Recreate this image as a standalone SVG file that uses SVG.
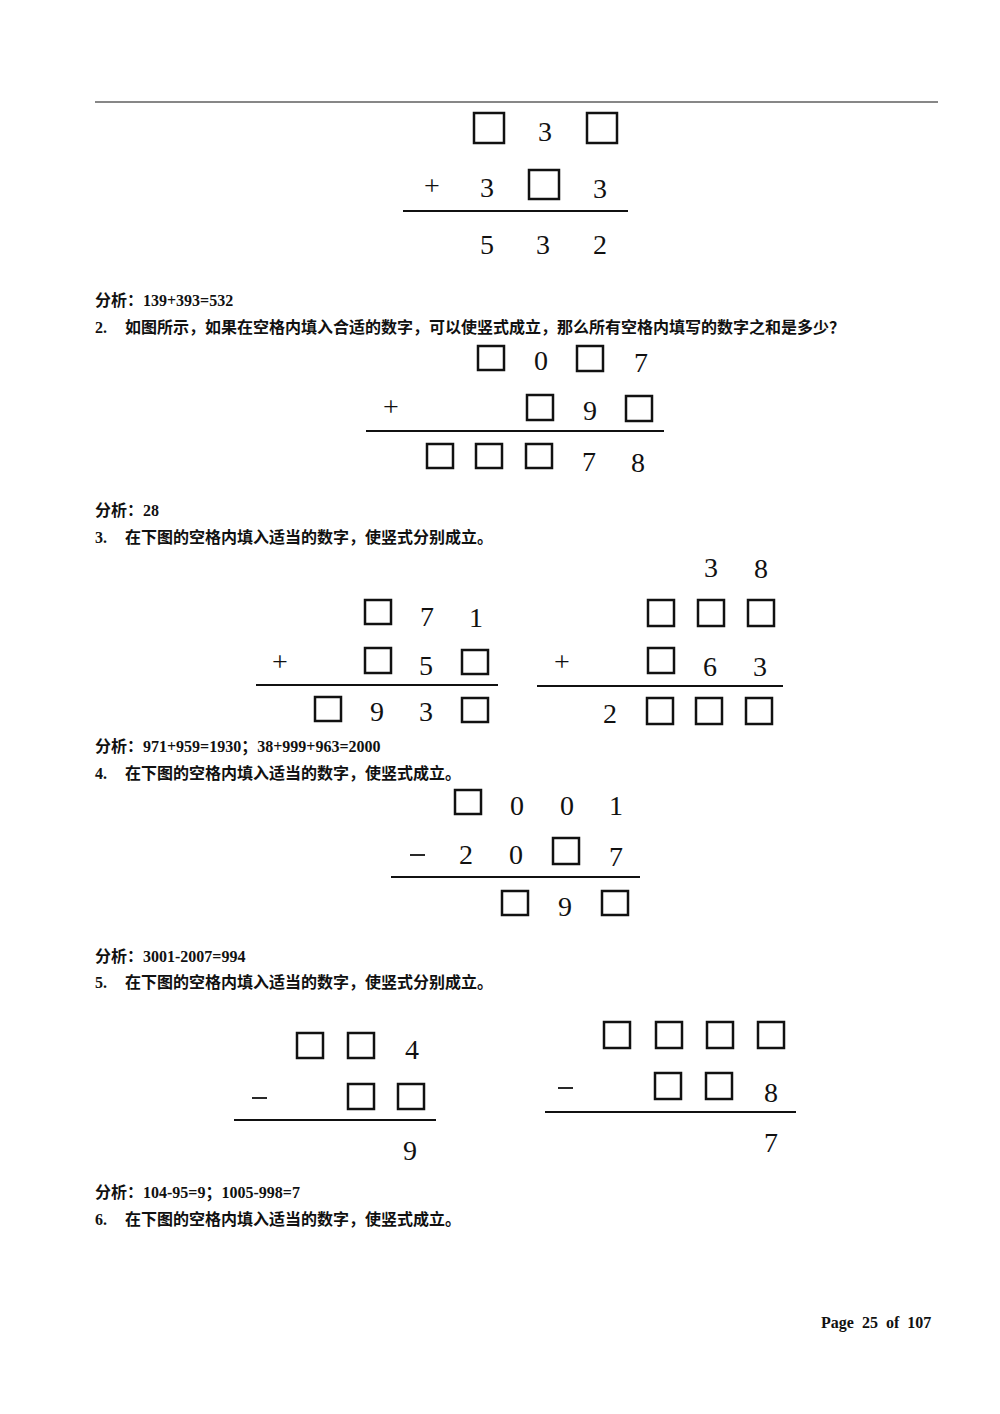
<svg xmlns="http://www.w3.org/2000/svg" width="1000" height="1414" viewBox="0 0 1000 1414">
<style>
.b{fill:none;stroke:#111;stroke-width:2.5}
.d{font-family:"Liberation Serif",serif;font-size:28px;text-anchor:middle;fill:#111}
.t{font-family:"Liberation Serif","Noto Sans CJK SC",serif;font-size:16px;font-weight:bold;fill:#111}
.l{stroke:#111;stroke-width:1.8}
</style>
<rect width="1000" height="1414" fill="#fff"/>
<line x1="95" y1="102" x2="938" y2="102" stroke="#111" stroke-width="1.2"/>
<g id="p1">
<rect class="b" x="474" y="113" width="30" height="30"/><text class="d" x="545" y="141">3</text><rect class="b" x="587" y="113" width="30" height="30"/>
<text class="d" x="432" y="195">+</text><text class="d" x="487" y="197">3</text><rect class="b" x="529" y="170" width="30" height="29"/><text class="d" x="600" y="198">3</text>
<line class="l" x1="403" y1="211" x2="628" y2="211"/>
<text class="d" x="487" y="254">5</text><text class="d" x="543" y="254">3</text><text class="d" x="600" y="254">2</text>
</g>
<text class="t" x="95" y="306">分析：139+393=532</text>
<text class="t" x="95" y="333">2.</text><text class="t" x="125" y="333">如图所示，如果在空格内填入合适的数字，可以使竖式成立，那么所有空格内填写的数字之和是多少？</text>
<g id="p2">
<rect class="b" x="478" y="346" width="26" height="24"/><text class="d" x="541" y="370">0</text><rect class="b" x="577" y="346" width="26" height="25"/><text class="d" x="641" y="372">7</text>
<text class="d" x="391" y="416">+</text><rect class="b" x="527" y="395" width="26" height="25"/><text class="d" x="590" y="420">9</text><rect class="b" x="626" y="396" width="26" height="25"/>
<line class="l" x1="366" y1="431" x2="664" y2="431"/>
<rect class="b" x="427" y="444" width="26" height="24"/><rect class="b" x="476" y="444" width="26" height="24"/><rect class="b" x="526" y="444" width="26" height="24"/><text class="d" x="589" y="471">7</text><text class="d" x="638" y="472">8</text>
</g>
<text class="t" x="95" y="516">分析：28</text>
<text class="t" x="95" y="543">3.</text><text class="t" x="125" y="543">在下图的空格内填入适当的数字，使竖式分别成立。</text>
<g id="p3a">
<rect class="b" x="365" y="600" width="26" height="24"/><text class="d" x="427" y="626">7</text><text class="d" x="476" y="627">1</text>
<text class="d" x="280" y="671">+</text><rect class="b" x="365" y="648" width="26" height="25"/><text class="d" x="426" y="675">5</text><rect class="b" x="462" y="650" width="26" height="24"/>
<line class="l" x1="256" y1="685" x2="498" y2="685"/>
<rect class="b" x="315" y="697" width="26" height="24"/><text class="d" x="377" y="721">9</text><text class="d" x="426" y="721">3</text><rect class="b" x="462" y="698" width="26" height="24"/>
</g>
<g id="p3b">
<text class="d" x="711" y="577">3</text><text class="d" x="761" y="578">8</text>
<rect class="b" x="648" y="600" width="26" height="26"/><rect class="b" x="698" y="600" width="26" height="26"/><rect class="b" x="748" y="600" width="26" height="26"/>
<text class="d" x="562" y="671">+</text><rect class="b" x="648" y="648" width="26" height="25"/><text class="d" x="710" y="676">6</text><text class="d" x="760" y="676">3</text>
<line class="l" x1="537" y1="686" x2="783" y2="686"/>
<text class="d" x="610" y="723">2</text><rect class="b" x="647" y="698" width="26" height="26"/><rect class="b" x="696" y="698" width="26" height="26"/><rect class="b" x="746" y="698" width="26" height="26"/>
</g>
<text class="t" x="95" y="752">分析：971+959=1930；38+999+963=2000</text>
<text class="t" x="95" y="779">4.</text><text class="t" x="125" y="779">在下图的空格内填入适当的数字，使竖式成立。</text>
<g id="p4">
<rect class="b" x="455" y="790" width="26" height="24"/><text class="d" x="517" y="815">0</text><text class="d" x="567" y="815">0</text><text class="d" x="616" y="815">1</text>
<line class="l" x1="410" y1="855" x2="425" y2="855"/><text class="d" x="466" y="864">2</text><text class="d" x="516" y="864">0</text><rect class="b" x="553" y="838" width="26" height="26"/><text class="d" x="616" y="866">7</text>
<line class="l" x1="391" y1="877" x2="640" y2="877"/>
<rect class="b" x="502" y="891" width="26" height="24"/><text class="d" x="565" y="916">9</text><rect class="b" x="602" y="891" width="26" height="24"/>
</g>
<text class="t" x="95" y="962">分析：3001-2007=994</text>
<text class="t" x="95" y="988">5.</text><text class="t" x="125" y="988">在下图的空格内填入适当的数字，使竖式分别成立。</text>
<g id="p5a">
<rect class="b" x="297" y="1033" width="26" height="25"/><rect class="b" x="348" y="1033" width="26" height="25"/><text class="d" x="412" y="1059">4</text>
<line class="l" x1="252" y1="1098" x2="267" y2="1098"/><rect class="b" x="348" y="1084" width="26" height="25"/><rect class="b" x="398" y="1084" width="26" height="25"/>
<line class="l" x1="234" y1="1120" x2="436" y2="1120"/>
<text class="d" x="410" y="1160">9</text>
</g>
<g id="p5b">
<rect class="b" x="604" y="1022" width="26" height="26"/><rect class="b" x="656" y="1022" width="26" height="26"/><rect class="b" x="707" y="1022" width="26" height="26"/><rect class="b" x="758" y="1022" width="26" height="26"/>
<line class="l" x1="558" y1="1088" x2="573" y2="1088"/><rect class="b" x="655" y="1073" width="26" height="26"/><rect class="b" x="706" y="1073" width="26" height="26"/><text class="d" x="771" y="1102">8</text>
<line class="l" x1="545" y1="1112" x2="796" y2="1112"/>
<text class="d" x="771" y="1152">7</text>
</g>
<text class="t" x="95" y="1198">分析：104-95=9；1005-998=7</text>
<text class="t" x="95" y="1225">6.</text><text class="t" x="125" y="1225">在下图的空格内填入适当的数字，使竖式成立。</text>
<text class="t" x="821" y="1328" font-size="14" xml:space="preserve">Page  25  of  107</text>
</svg>
